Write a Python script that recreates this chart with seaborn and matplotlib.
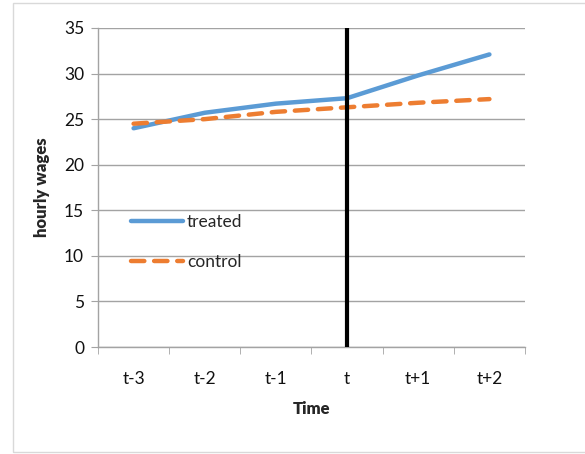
import matplotlib
matplotlib.use('Agg')
import matplotlib.pyplot as plt
import seaborn as sns
import pandas as pd
from matplotlib.patches import Rectangle

periods = ['t-3', 't-2', 't-1', 't', 't+1', 't+2']
treated = [24.0, 25.7, 26.7, 27.3, 29.8, 32.1]
control = [24.5, 25.0, 25.8, 26.3, 26.8, 27.2]
event_period = 't'

df = pd.DataFrame({
    'Time': periods * 2,
    'wage': treated + control,
    'group': ['treated'] * len(periods) + ['control'] * len(periods),
})

sns.set_style('white')
plt.rcParams['font.family'] = ['Lato', 'DejaVu Sans']

fig = plt.figure(figsize=(5.85, 4.54), dpi=100)
ax = fig.add_axes([98 / 585, 1 - 347 / 454, 427 / 585, 319 / 454])

gray = '#a3a3a3'
ax.set_ylim(0, 35)
ax.set_yticks(range(0, 36, 5))
ax.yaxis.grid(True, color=gray, lw=1)
ax.set_axisbelow(True)

sns.lineplot(data=df, x='Time', y='wage', hue='group', style='group',
             palette={'treated': '#5B9BD5', 'control': '#ED7D31'},
             dashes={'treated': '', 'control': (3.0, 2.2)},
             linewidth=3.2, ax=ax, sort=False)
for ln in ax.lines:
    ln.set_solid_capstyle('round')
    ln.set_dash_capstyle('round')

ax.axvline(periods.index(event_period), color='black', lw=3, zorder=5)

ax.set_xlim(-0.5, len(periods) - 0.5)
ax.set_xticks(range(len(periods)))
ax.set_xticklabels(periods)
ax.set_xticks([i - 0.5 for i in range(len(periods) + 1)], minor=True)
ax.tick_params(axis='x', which='major', length=0, pad=17, labelsize=12.5, labelcolor='#111111')
ax.tick_params(axis='x', which='minor', length=5, color=gray, direction='out', bottom=True)
ax.tick_params(axis='y', length=5, color=gray, direction='out', left=True, pad=5,
               labelsize=12.5, labelcolor='#111111')

for s in ['top', 'right']:
    ax.spines[s].set_visible(False)
for s in ['left', 'bottom']:
    ax.spines[s].set_color(gray)
    ax.spines[s].set_linewidth(1)

ax.set_xlabel('Time', fontweight='heavy', fontsize=12, labelpad=10)
ax.set_ylabel('hourly wages', fontweight='heavy', fontsize=12, labelpad=10)

leg = ax.legend(loc='upper left', bbox_to_anchor=(0.06, 0.44), frameon=False,
                handlelength=3.0, labelspacing=1.4, handletextpad=0.25,
                fontsize=12.5, borderaxespad=0)
for h in leg.get_lines():
    h.set_linewidth(3.2)
    h.set_solid_capstyle('round')
    h.set_dash_capstyle('round')

fig.patches.append(Rectangle((13 / 585, 1 - 452 / 454), 1.0, 449 / 454,
                             transform=fig.transFigure, fill=False,
                             edgecolor='#d9d9d9', lw=1))

fig.savefig('out.png', dpi=100)
